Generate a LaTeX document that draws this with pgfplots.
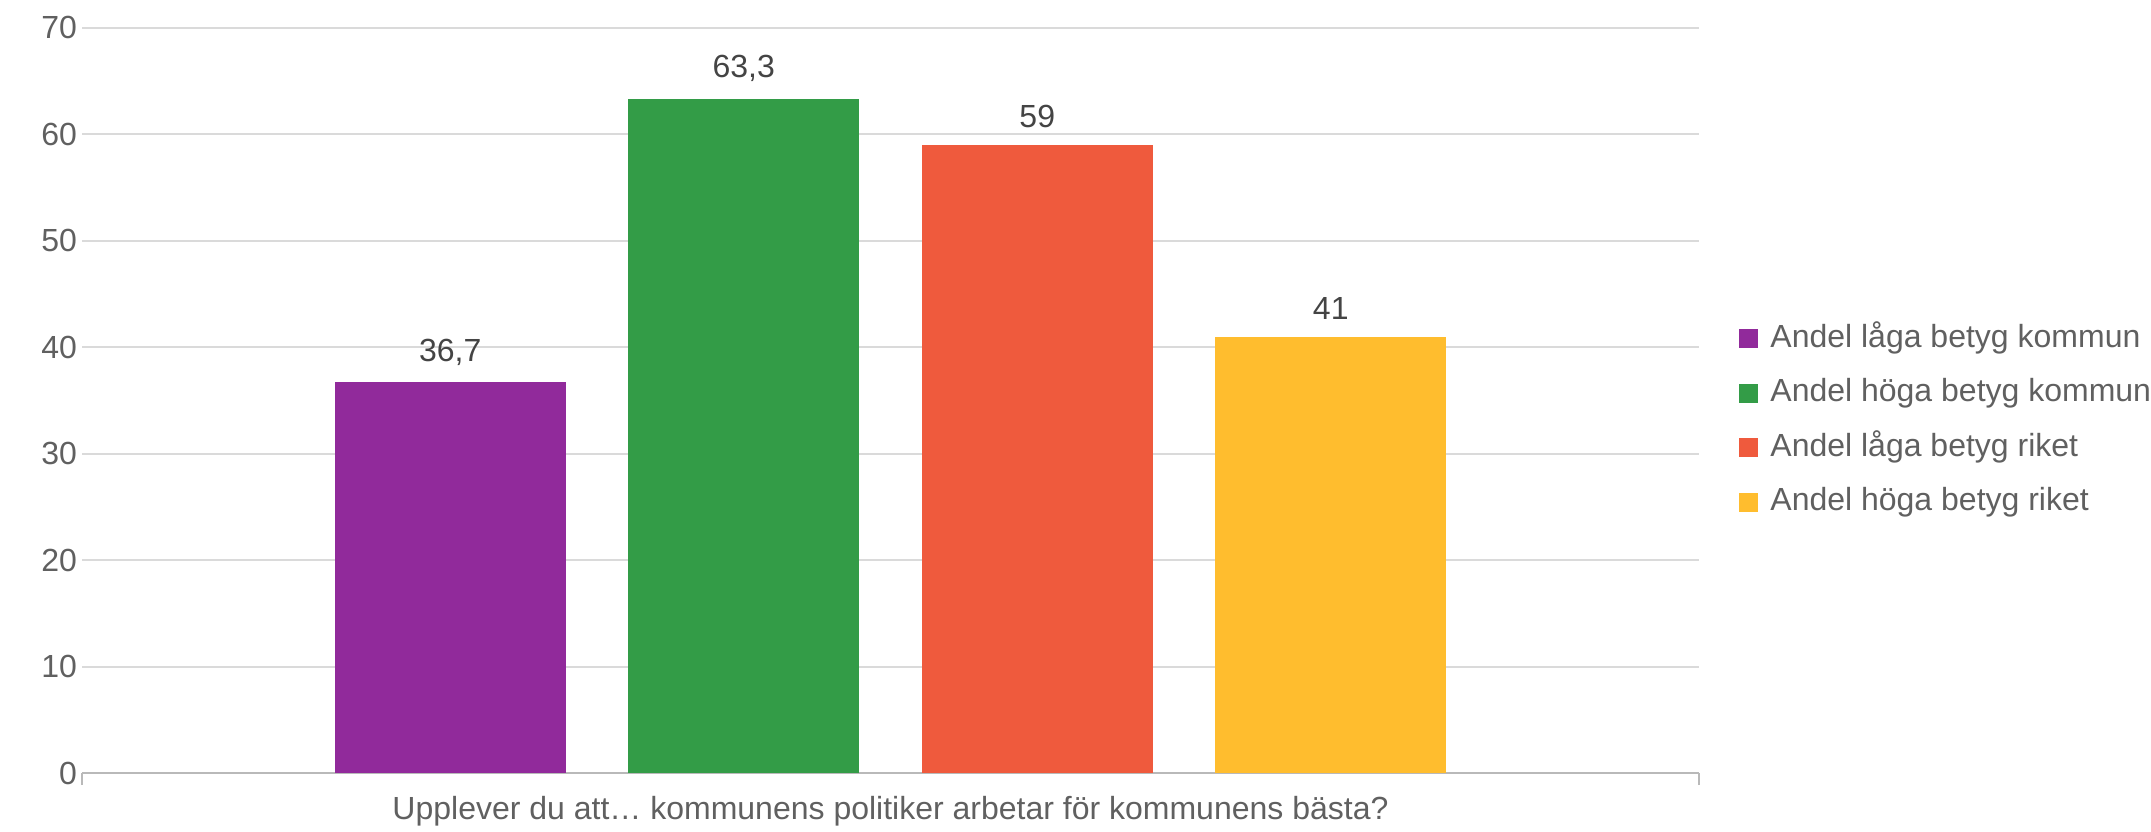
\documentclass[border=0pt]{standalone}
\usepackage{fontspec}
\setmainfont{Liberation Sans}
\usepackage{pgfplots}
\pgfplotsset{compat=1.18}
\definecolor{cpurple}{HTML}{912A9B}
\definecolor{cgreen}{HTML}{339C47}
\definecolor{cred}{HTML}{EF5A3D}
\definecolor{cyellow}{HTML}{FFBD2E}
\definecolor{gridc}{HTML}{DADADA}
\definecolor{txt}{HTML}{606060}
\definecolor{valc}{HTML}{444444}
\begin{document}
\begin{tikzpicture}
\begin{axis}[
  scale only axis, width=808.5pt, height=372.7pt,
  at={(0,0)}, anchor=south west,
  xmin=-1, xmax=1, ymin=0, ymax=70,
  ytick={0,10,...,70},
  xtick={-1,1}, xticklabels={},
  axis x line*=bottom, axis y line*=left,
  y axis line style={draw=none},
  x axis line style={gridc!85!black, line width=1pt},
  ymajorgrids, grid style={gridc, line width=1pt},
  ytick style={draw=none},
  xtick style={gridc!85!black, line width=1pt},
  tick align=outside, major tick length=6pt,
  yticklabel style={font=\fontsize{16}{19}\selectfont, text=txt, xshift=7pt},
  /pgf/number format/assume math mode=true,
  /pgf/number format/use comma,
  /pgf/number format/fixed,
  /pgf/number format/precision=1,
  ybar=31.25pt, bar width=115.5pt,
  nodes near coords,
  nodes near coords style={font=\fontsize{16}{19}\selectfont, text=valc, yshift=5pt},
  xlabel={Upplever du att… kommunens politiker arbetar för kommunens bästa?},
  xlabel style={at={(axis description cs:0.5,0)}, anchor=center, yshift=-19pt, font=\fontsize{16}{19}\selectfont, text=txt},
  legend style={draw=none, fill=none, at={(1,0.473)}, anchor=west, xshift=20pt, inner sep=0pt,
    font=\fontsize{16}{19}\selectfont, text=txt, row sep=11.75pt,
    nodes={inner sep=0pt, text height=12pt, text depth=3.5pt},
    /tikz/every odd column/.append style={column sep=6pt}},
  legend cell align=left,
  legend image code/.code={\fill[#1,draw=none] (0pt,-4.75pt) rectangle (9.5pt,4.75pt);},
]
\addplot[fill=cpurple, draw=none] coordinates {(0,36.7)};
\addplot[fill=cgreen, draw=none] coordinates {(0,63.3)};
\addplot[fill=cred, draw=none] coordinates {(0,59)};
\addplot[fill=cyellow, draw=none] coordinates {(0,41)};
\legend{Andel låga betyg kommun, Andel höga betyg kommun, Andel låga betyg riket, Andel höga betyg riket}
\end{axis}
\pgfresetboundingbox
\path[use as bounding box] (-41pt,-29pt) rectangle (1034.5pt,386.55pt);
\end{tikzpicture}
\end{document}
